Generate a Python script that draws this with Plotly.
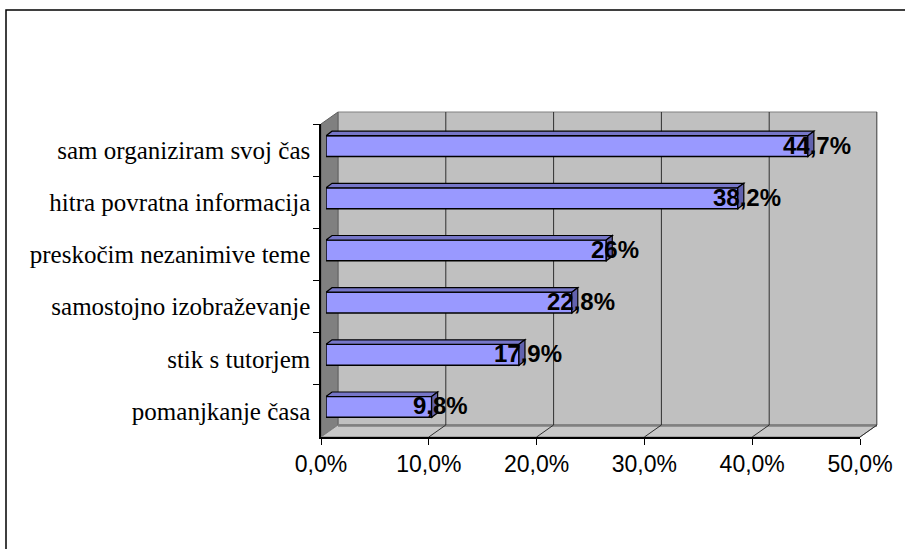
import plotly.graph_objects as go

# Survey answers, top to bottom, and their shares in percent
categories = [
    "sam organiziram svoj čas",
    "hitra povratna informacija",
    "preskočim nezanimive teme",
    "samostojno izobraževanje",
    "stik s tutorjem",
    "pomanjkanje časa",
]
values = [44.7, 38.2, 26.0, 22.8, 17.9, 9.8]
x_ticks = [0, 10, 20, 30, 40, 50]
x_tick_labels = ["0,0%", "10,0%", "20,0%", "30,0%", "40,0%", "50,0%"]

W, H = 905, 549
# plot box in pixels (front plane + depth)
L, R, T, B = 321, 877, 112, 437
PW, PH = R - L, B - T
DX, DY = 17, 12          # depth of the 3-D box
BX, BY = 5, 4            # offset of the bar front faces inside the box
BDX, BDY = 6, 4.5        # bar thickness in depth
BAR_W = 0.40

FRONT = "#9999FF"
TOP = "#7676C8"
SIDE = "#6262AE"


def px(p):
    return (p - L) / PW


def py(p):
    return (B - p) / PH


def pct(v):
    return f"{v:g}".replace(".", ",") + "%"


front_w = PW - DX
front_h = PH - DY
n = len(categories)
xmax = x_ticks[-1]

fig = go.Figure()

fig.add_trace(go.Bar(
    x=values, y=categories, orientation="h",
    xaxis="x2", yaxis="y2", width=BAR_W,
    marker=dict(color=FRONT, line=dict(color="black", width=1.5)),
    hoverinfo="skip", showlegend=False,
))

shapes = []
# outer chart frame
shapes.append(dict(type="rect", xref="paper", yref="paper",
                   x0=px(6), x1=px(W + 10), y0=py(10), y1=py(H + 10),
                   line=dict(color="black", width=1.5), fillcolor="white", layer="below"))
# back wall
shapes.append(dict(type="rect", xref="paper", yref="paper",
                   x0=px(L + DX), x1=px(R), y0=py(T), y1=py(B - DY),
                   line=dict(color="#808080", width=1), fillcolor="#C0C0C0", layer="below"))
# left side wall
shapes.append(dict(type="path", xref="paper", yref="paper",
                   path=f"M{px(L)},{py(T + DY)} L{px(L + DX)},{py(T)} L{px(L + DX)},{py(B - DY)} L{px(L)},{py(B)} Z",
                   line=dict(color="#606060", width=1), fillcolor="#808080", layer="below"))
# floor
shapes.append(dict(type="path", xref="paper", yref="paper",
                   path=f"M{px(L)},{py(B)} L{px(L + DX)},{py(B - DY)} L{px(R)},{py(B - DY)} L{px(R - DX)},{py(B)} Z",
                   line=dict(color="#808080", width=1), fillcolor="#C8C8C8", layer="below"))
shapes.append(dict(type="line", xref="paper", yref="paper",
                   x0=px(L + DX), x1=px(R), y0=py(B - DY + 0.5), y1=py(B - DY + 0.5),
                   line=dict(color="#808080", width=2.5), layer="below"))

# grid lines on the back wall and their traces across the floor
for t in x_ticks[1:]:
    fx = L + t / xmax * front_w
    shapes.append(dict(type="line", xref="x3", yref="y3 domain", x0=t, x1=t, y0=0, y1=1,
                       line=dict(color="#303030", width=1), layer="below"))
    shapes.append(dict(type="line", xref="paper", yref="paper",
                       x0=px(fx), x1=px(fx + DX), y0=py(B), y1=py(B - DY),
                       line=dict(color="#303030", width=1), layer="below"))

# 3-D top and side faces of every bar
ux = xmax / (front_w)            # data units per pixel along x
uy = n / front_h                 # category units per pixel along y
for i, v in enumerate(values):
    y_top = i - BAR_W / 2
    y_bot = i + BAR_W / 2
    ddx = BDX * ux
    ddy = BDY * uy
    shapes.append(dict(type="path", xref="x2", yref="y2",
                       path=f"M0,{y_top} L{ddx},{y_top - ddy} L{v + ddx},{y_top - ddy} L{v},{y_top} Z",
                       fillcolor=TOP, line=dict(color="black", width=1.2)))
    shapes.append(dict(type="path", xref="x2", yref="y2",
                       path=f"M{v},{y_top} L{v + ddx},{y_top - ddy} L{v + ddx},{y_bot - ddy} L{v},{y_bot} Z",
                       fillcolor=SIDE, line=dict(color="black", width=1.2)))

annotations = []
for cat, v in zip(categories, values):
    annotations.append(dict(
        x=v, y=cat, xref="x2", yref="y2", text=pct(v), showarrow=False,
        xanchor="center", yanchor="middle", xshift=9, yshift=1,
        font=dict(family="Liberation Sans, Arial", size=24, color="black", weight="bold"),
    ))

front_xdom = [0, px(L + front_w)]
front_ydom = [0, py(B - front_h)]
bar_xdom = [px(L + BX), px(L + BX + front_w)]
bar_ydom = [BY / PH, py(B - front_h - BY)]
back_xdom = [px(L + DX), 1]
back_ydom = [DY / PH, 1]

cat_range = [n - 0.5, -0.5]

fig.update_layout(
    width=W, height=H, autosize=False,
    margin=dict(l=L, r=W - R, t=T, b=H - B, pad=0),
    paper_bgcolor="white", plot_bgcolor="rgba(0,0,0,0)",
    shapes=shapes, annotations=annotations, bargap=0.6,
    xaxis=dict(domain=front_xdom, anchor="y", range=[0, xmax], automargin=False,
               tickvals=x_ticks, ticktext=x_tick_labels,
               ticks="outside", ticklen=6, tickcolor="black", tickwidth=1,
               showline=True, linecolor="black", linewidth=1.5,
               showgrid=False, zeroline=False,
               tickfont=dict(family="Liberation Sans, Arial", size=23, color="black")),
    yaxis=dict(domain=front_ydom, anchor="x", type="category", automargin=False,
               categoryorder="array", categoryarray=categories, range=cat_range,
               tickson="boundaries", ticks="outside", ticklen=6, tickcolor="black",
               showline=True, linecolor="black", linewidth=1.5, showgrid=False,
               ticklabelstandoff=4,
               tickfont=dict(family="Liberation Serif, Times New Roman, serif", size=25, color="black")),
    xaxis2=dict(domain=bar_xdom, anchor="y2", range=[0, xmax], visible=False, automargin=False),
    yaxis2=dict(domain=bar_ydom, anchor="x2", type="category", automargin=False,
                categoryorder="array", categoryarray=categories, range=cat_range,
                visible=False),
    xaxis3=dict(domain=back_xdom, anchor="y3", range=[0, xmax], visible=False, automargin=False),
    yaxis3=dict(domain=back_ydom, anchor="x3", range=[0, 1], visible=False, automargin=False),
)

# the front y axis carries no trace of its own; give it an empty one so it renders
fig.add_trace(go.Scatter(x=[None], y=[categories[0]], xaxis="x", yaxis="y",
                         mode="markers", showlegend=False, hoverinfo="skip"))
fig.add_trace(go.Scatter(x=[None], y=[None], xaxis="x3", yaxis="y3",
                         mode="markers", showlegend=False, hoverinfo="skip"))

fig.write_html("out.html")
